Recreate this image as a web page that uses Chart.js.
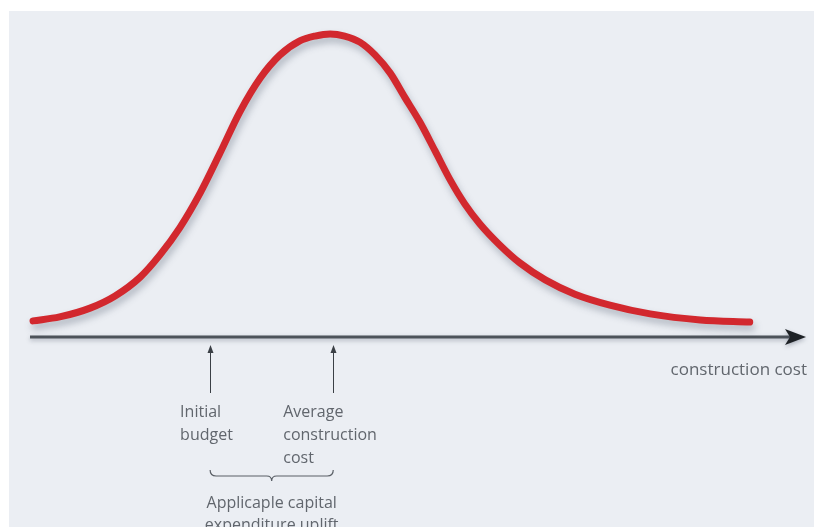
<!DOCTYPE html>
<html>
<head>
<meta charset="utf-8">
<script src="https://cdn.jsdelivr.net/npm/chart.js@4.4.1/dist/chart.umd.min.js"></script>
<style>
  html, body { margin: 0; padding: 0; background: #ffffff; }
  #wrap { width: 814px; height: 527px; position: relative; }
</style>
</head>
<body>
<div id="wrap"><canvas id="c" width="814" height="527"></canvas></div>
<script>
// ---- data (arbitrary units: cost along x, frequency along y) ----
const costValues = [0.4, 3.9, 7.9, 11.2, 14.5, 17.1, 19.7, 22.4, 25.0, 27.6, 30.3, 32.9, 35.5, 37.5, 39.5, 41.4, 43.4, 45.4, 47.4, 49.3, 51.3, 53.3, 55.3, 57.2, 59.2, 61.8, 64.5, 67.8, 71.7, 76.3, 81.6, 88.2, 94.7];
const frequencyValues = [5.3, 6.6, 9.5, 13.5, 19.7, 27.0, 35.9, 47.4, 60.5, 74.0, 85.2, 92.8, 97.4, 99.0, 99.7, 99.0, 97.0, 92.8, 86.8, 78.9, 70.7, 61.2, 51.6, 43.8, 37.2, 30.3, 24.3, 18.8, 14.1, 10.5, 7.6, 5.6, 4.9];
const markerPositions = [23.7, 39.9];
const markerLabels = [["Initial", "budget"], ["Average", "construction", "cost"]];
const axisTitle = "construction cost";
const braceLabel = ["Applicaple capital", "expenditure uplift"];

const points = costValues.map((x, i) => ({ x: x, y: frequencyValues[i] }));

const FONT = '"Open Sans", sans-serif';
const TEXT_COLOR = '#61666d';

const decor = {
  id: 'decor',
  beforeDraw(chart) {
    const ctx = chart.ctx;
    ctx.save();
    ctx.fillStyle = '#ffffff';
    ctx.fillRect(0, 0, chart.width, chart.height);
    ctx.fillStyle = '#ebeef3';
    ctx.fillRect(9, 11, chart.width - 9, chart.height - 11);
    ctx.restore();
  },
  beforeDatasetsDraw(chart) {
    const ctx = chart.ctx;
    const xs = chart.scales.x, ys = chart.scales.y;
    const y0 = ys.getPixelForValue(0);
    const left = xs.getPixelForValue(xs.min);
    const right = xs.getPixelForValue(xs.max);
    ctx.save();
    ctx.shadowColor = 'rgba(60,70,90,0.35)';
    ctx.shadowBlur = 4;
    ctx.shadowOffsetY = 2;
    ctx.strokeStyle = '#4d535a';
    ctx.lineWidth = 3;
    ctx.beginPath();
    ctx.moveTo(left, y0);
    ctx.lineTo(right + 2, y0);
    ctx.stroke();
    ctx.fillStyle = '#1e2226';
    ctx.beginPath();
    ctx.moveTo(right + 16, y0);
    ctx.lineTo(right - 5, y0 - 8);
    ctx.lineTo(right, y0);
    ctx.lineTo(right - 5, y0 + 8);
    ctx.closePath();
    ctx.fill();
    ctx.restore();

    // markers
    ctx.save();
    ctx.strokeStyle = '#3a3f45';
    ctx.fillStyle = '#3a3f45';
    ctx.lineWidth = 1;
    markerPositions.forEach((v) => {
      const px = Math.round(xs.getPixelForValue(v)) + 0.5;
      ctx.beginPath();
      ctx.moveTo(px, y0 + 56);
      ctx.lineTo(px, y0 + 14);
      ctx.stroke();
      ctx.beginPath();
      ctx.moveTo(px, y0 + 8);
      ctx.lineTo(px - 3, y0 + 16);
      ctx.lineTo(px + 3, y0 + 16);
      ctx.closePath();
      ctx.fill();
    });
    ctx.restore();

    ctx.save();
    ctx.fillStyle = TEXT_COLOR;
    ctx.font = '16px ' + FONT;
    ctx.textBaseline = 'middle';
    ctx.textAlign = 'left';
    markerLabels.forEach((lines, i) => {
      const px = xs.getPixelForValue(markerPositions[i]);
      const offs = i === 0 ? -30 : -50;
      lines.forEach((t, j) => {
        ctx.fillText(t, px + offs, y0 + 75 + j * 23);
      });
    });
    ctx.font = '17px ' + FONT;
    ctx.textAlign = 'right';
    ctx.fillText(axisTitle, right + 17, y0 + 33);

    // brace
    const a = xs.getPixelForValue(markerPositions[0]);
    const b = xs.getPixelForValue(markerPositions[1]);
    const m = (a + b) / 2;
    const by = y0 + 133;
    ctx.strokeStyle = '#5a5f66';
    ctx.lineWidth = 1.2;
    ctx.beginPath();
    ctx.moveTo(a, by);
    ctx.quadraticCurveTo(a, by + 6, a + 6, by + 6);
    ctx.lineTo(m - 5, by + 6);
    ctx.quadraticCurveTo(m, by + 6, m, by + 11);
    ctx.quadraticCurveTo(m, by + 6, m + 5, by + 6);
    ctx.lineTo(b - 6, by + 6);
    ctx.quadraticCurveTo(b, by + 6, b, by);
    ctx.stroke();

    ctx.font = '16px ' + FONT;
    ctx.textAlign = 'center';
    braceLabel.forEach((t, j) => {
      ctx.fillText(t, m, by + 33 + j * 22);
    });
    ctx.restore();
  },
  beforeDatasetDraw(chart) {
    const ctx = chart.ctx;
    ctx.save();
    ctx.shadowColor = 'rgba(70,80,100,0.35)';
    ctx.shadowBlur = 7;
    ctx.shadowOffsetX = 2;
    ctx.shadowOffsetY = 5;
  },
  afterDatasetDraw(chart) {
    chart.ctx.restore();
  }
};

new Chart(document.getElementById('c'), {
  type: 'line',
  data: {
    datasets: [{
      data: points,
      borderColor: '#d2282e',
      borderWidth: 7,
      borderCapStyle: 'round',
      borderJoinStyle: 'round',
      pointRadius: 0,
      fill: false,
      cubicInterpolationMode: 'monotone',
      clip: false
    }]
  },
  options: {
    responsive: false,
    devicePixelRatio: 1,
    animation: false,
    events: [],
    layout: { padding: { left: 30, right: 24, top: 33, bottom: 190 } },
    plugins: { legend: { display: false }, tooltip: { enabled: false } },
    scales: {
      x: { type: 'linear', min: 0, max: 100, display: false },
      y: { min: 0, max: 100, display: false }
    }
  },
  plugins: [decor]
});
</script>
</body>
</html>
